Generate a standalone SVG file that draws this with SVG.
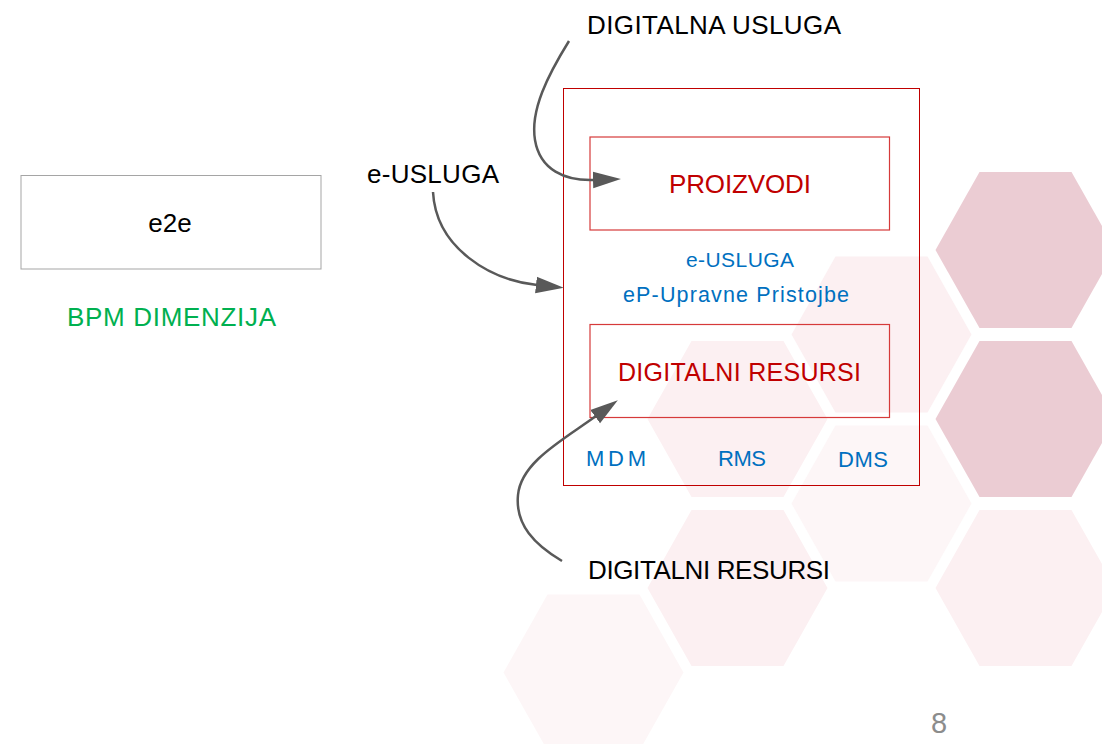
<svg xmlns="http://www.w3.org/2000/svg" width="1102" height="744" viewBox="0 0 1102 744">
  <style>
    .t { font-family: "Liberation Sans", Arial, sans-serif; }
    .blk { fill: #000000; font-size: 26px; }
    .red { fill: #C00000; }
    .blue { fill: #0070C0; }
    .hd { fill: #EBCCD3; }
    .hl { fill: #FCF0F2; }
    .hx { fill: #FDF6F7; }
    .conn { fill: none; stroke: #595959; stroke-width: 2.5; marker-end: url(#ah); }
  </style>
  <defs>
    <marker id="ah" markerUnits="userSpaceOnUse" markerWidth="28" markerHeight="18" viewBox="0 0 27 16" refX="1" refY="8" orient="auto">
      <path d="M0,0 L27,8 L0,16 z" fill="#595959"/>
    </marker>
    <polygon id="hex" points="-90,0 -46,-78 46,-78 90,0 46,78 -46,78"/>
  </defs>
  <rect width="1102" height="744" fill="#FFFFFF"/>

  <g id="background-hexagons">
    <use href="#hex" class="hd" x="1025.5" y="250"/>
    <use href="#hex" class="hd" x="1025.5" y="419"/>
    <use href="#hex" class="hl" x="1025.5" y="588"/>
    <use href="#hex" class="hl" x="881.5" y="334.5"/>
    <use href="#hex" class="hx" x="881.5" y="503.5"/>
    <use href="#hex" class="hl" x="737.5" y="419"/>
    <use href="#hex" class="hl" x="737.5" y="588"/>
    <use href="#hex" class="hx" x="593.5" y="672.5"/>
  </g>

  <g id="node-e2e">
    <rect x="21" y="175.5" width="300" height="93.5" fill="none" stroke="#A5A5A5" stroke-width="1"/>
    <text class="t blk" x="170" y="232" text-anchor="middle">e2e</text>
  </g>

  <g id="label-bpm">
    <text class="t" x="67" y="326" font-size="26" fill="#00B050" textLength="209">BPM DIMENZIJA</text>
  </g>

  <g id="label-e-usluga">
    <text class="t blk" x="367" y="183" textLength="132">e-USLUGA</text>
  </g>

  <g id="label-digitalna-usluga">
    <text class="t blk" x="587" y="34" textLength="254">DIGITALNA USLUGA</text>
  </g>

  <g id="node-container">
    <rect x="563.5" y="88.5" width="356" height="397" fill="none" stroke="#C00000" stroke-width="1"/>
    <text class="t blue" x="686" y="267" font-size="21" textLength="108">e-USLUGA</text>
    <text class="t blue" x="623" y="302" font-size="21.5" textLength="226">eP-Upravne Pristojbe</text>
    <text class="t blue" x="586" y="466" font-size="22" textLength="60">MDM</text>
    <text class="t blue" x="718" y="466" font-size="22" textLength="48">RMS</text>
    <text class="t blue" x="838" y="467" font-size="22" textLength="50">DMS</text>
  </g>

  <g id="node-proizvodi">
    <rect x="590" y="137" width="299.5" height="93" fill="none" stroke="#D63A3A" stroke-width="1.2"/>
    <text class="t red" x="669" y="193" font-size="26" textLength="142">PROIZVODI</text>
  </g>

  <g id="node-digitalni-resursi">
    <rect x="590" y="324.5" width="299.5" height="93" fill="none" stroke="#D63A3A" stroke-width="1.2"/>
    <text class="t red" x="618" y="381" font-size="25" textLength="243">DIGITALNI RESURSI</text>
  </g>

  <g id="label-digitalni-resursi">
    <text class="t blk" x="588" y="579" font-size="25" textLength="242">DIGITALNI RESURSI</text>
  </g>

  <g id="page-number">
    <text class="t" x="939" y="733" font-size="29" fill="#8C8C8C" text-anchor="middle">8</text>
  </g>

  <g id="connectors">
    <path class="conn" d="M569,41 C548,75 530,110 535,140 C540,170 565,181 594,180"/>
    <path class="conn" d="M433,192 C436,248 490,280 537,285"/>
    <path class="conn" d="M562,561 C535,545 515,525 518,495 C521,462 563,440 596,416"/>
  </g>
</svg>
